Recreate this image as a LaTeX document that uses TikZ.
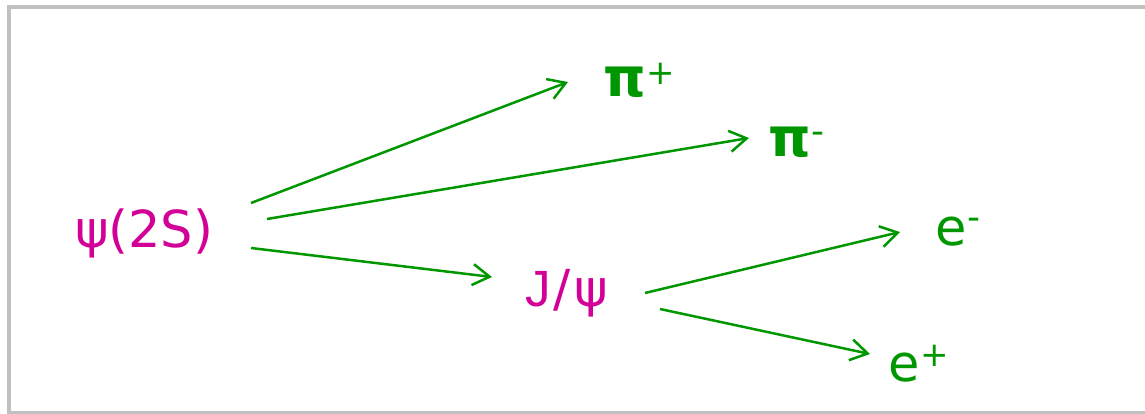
\documentclass[tikz,border=0pt]{standalone}
\usepackage{fontspec}
\setmainfont{DejaVu Sans}
\newfontfamily\jfont{Liberation Sans}
\usetikzlibrary{arrows.meta,calc}
\definecolor{partmag}{RGB}{210,0,150}
\definecolor{partgreen}{RGB}{0,150,0}
\definecolor{framegray}{RGB}{192,192,192}
\newcommand\upplus[1]{\hspace{1pt}\raisebox{#1}{\fontsize{34}{34}\selectfont +}}
\newcommand\upminus[1]{\hspace{1pt}\raisebox{#1}{\fontsize{36}{36}\selectfont -}}
\newcommand\bigpi{{\fontsize{54}{54}\selectfont\bfseries π}}
\tikzset{
  particle/.style={inner sep=0pt,outer sep=0pt,anchor=base west,font=\fontsize{51}{51}\selectfont},
  parent/.style={particle,text=partmag},
  child/.style={particle,text=partgreen},
  decay/.style={draw=partgreen,line width=2.5pt,-{Straight Barb[length=17pt,width=21pt,line width=2.5pt]}},
}
\begin{document}
\begin{tikzpicture}[x=1pt,y=-1pt]
\useasboundingbox (0,0) rectangle (1145,414);
\draw[framegray,line width=4pt] (9,7) rectangle (1160,413);
\node[parent] (psi) at (75,247) {ψ(2S)};
\node[child] (piplus) at (603,97) {\bigpi\upplus{12pt}};
\node[child] (piminus) at (768,157) {\bigpi\upminus{13pt}};
\node[parent] (jpsi) at (525,306) {{\jfont J}\hspace{3pt}/\hspace{4pt}ψ};
\node[child] (eminus) at (935,245) {e\upminus{16pt}};
\node[child] (eplus) at (888,381) {e\upplus{15pt}};
\draw[decay] ($(psi.base west)+(176,-44)$) -- ($(piplus.base west)+(-35,-15)$);
\draw[decay] ($(psi.base west)+(192,-28)$) -- ($(piminus.base west)+(-19,-19)$);
\draw[decay] ($(psi.base west)+(176,1)$) -- ($(jpsi.base west)+(-33,-29)$);
\draw[decay] ($(jpsi.base west)+(120,-13)$) -- ($(eminus.base west)+(-35,-13)$);
\draw[decay] ($(jpsi.base west)+(135,3)$) -- ($(eplus.base west)+(-18,-27)$);
\end{tikzpicture}
\end{document}
